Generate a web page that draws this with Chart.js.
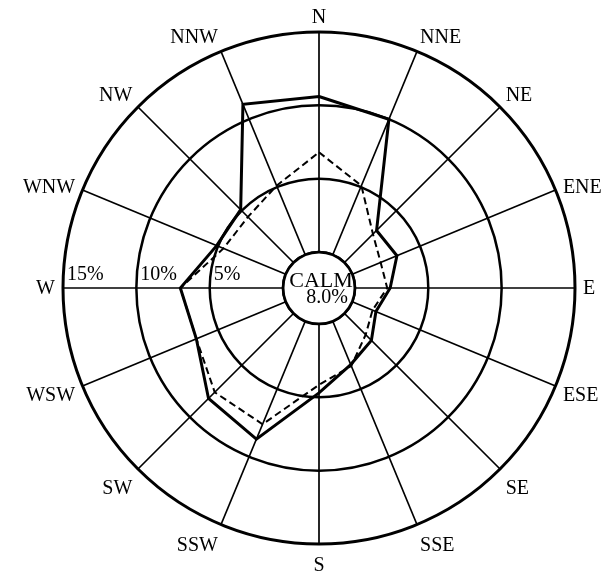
<!DOCTYPE html>
<html>
<head>
<meta charset="utf-8">
<script src="https://cdn.jsdelivr.net/npm/chart.js@4/dist/chart.umd.min.js"></script>
<style>
  html, body { margin: 0; padding: 0; background: #fff; }
  canvas { display: block; }
</style>
</head>
<body>
<canvas id="rose" width="616" height="580"></canvas>
<script>
// Wind directions, clockwise from north
const directions = ['N', 'NNE', 'NE', 'ENE', 'E', 'ESE', 'SE', 'SSE',
                    'S', 'SSW', 'SW', 'WSW', 'W', 'WNW', 'NW', 'NNW'];
// Frequency (%) per direction
const solidSeries  = [10.6, 10.0, 3.1, 3.3, 2.4, 1.75, 2.6, 3.2,
                      4.7, 8.7, 8.2, 6.6, 7.0, 5.1, 5.1, 11.1];
const dashedSeries = [6.8, 5.1, 2.75, 2.1, 2.2, 1.5, 2.05, 3.3,
                      4.15, 7.6, 7.6, 6.6, 7.0, 4.6, 4.4, 5.1];
// Rings and their labels
const ringTicks  = [0, 5, 10, 15];
const ringLabels = ['', '5%', '10%', '15%'];
const calmText   = ['CALM', '8.0%'];

const SERIF = '"Liberation Serif", "DejaVu Serif", serif';

// Calm circle in the middle, ring percentages along the west spoke, compass labels
const roseDecor = {
  id: 'roseDecor',
  beforeDatasetsDraw(chart) {
    const s = chart.scales.r;
    const ctx = chart.ctx;
    const cx = s.xCenter, cy = s.yCenter;
    const r0 = s.getDistanceFromCenterForValue(0);
    ctx.save();

    ctx.beginPath();
    ctx.arc(cx, cy, r0, 0, Math.PI * 2);
    ctx.fillStyle = '#fff';
    ctx.fill();
    ctx.lineWidth = 2.8;
    ctx.strokeStyle = '#000';
    ctx.stroke();

    ctx.fillStyle = '#000';
    ctx.textAlign = 'center';
    ctx.textBaseline = 'alphabetic';
    ctx.font = '22px ' + SERIF;
    ctx.fillText(calmText[0], cx + 2, cy - 1);
    ctx.font = '20px ' + SERIF;
    ctx.fillText(calmText[1], cx + 8, cy + 15);

    ctx.textAlign = 'left';
    ctx.font = '20px ' + SERIF;
    ringTicks.forEach((v, i) => {
      if (!ringLabels[i]) return;
      const d = s.getDistanceFromCenterForValue(v);
      ctx.fillText(ringLabels[i], cx - d + 4, cy - 8);
    });

    ctx.font = '20px ' + SERIF;
    ctx.textAlign = 'center';
    ctx.textBaseline = 'middle';
    directions.forEach((label, i) => {
      const a = i * Math.PI * 2 / directions.length;
      const sin = Math.sin(a), cos = Math.cos(a);
      const p = s.getPointPosition(i, s.drawingArea + 8);
      const hw = ctx.measureText(label).width / 2;
      const hh = 7;
      let dx = 0, dy = 0;
      if (Math.abs(sin) > 0.3) dx = Math.sign(sin) * hw;
      if (Math.abs(cos) > 0.5) dy = -Math.sign(cos) * hh;
      if (cos < -0.3) dy += 6;
      ctx.fillText(label, p.x + dx, p.y + dy + 1);
    });

    ctx.restore();
  }
};

new Chart(document.getElementById('rose'), {
  type: 'radar',
  data: {
    labels: directions,
    datasets: [
      {
        data: solidSeries,
        borderColor: '#000',
        borderWidth: 3,
        fill: false,
        pointRadius: 0,
        tension: 0,
        borderJoinStyle: 'miter'
      },
      {
        data: dashedSeries,
        borderColor: '#000',
        borderWidth: 2,
        borderDash: [7, 4],
        fill: false,
        pointRadius: 0,
        tension: 0
      }
    ]
  },
  options: {
    responsive: false,
    animation: false,
    layout: { padding: { left: 63, right: 41, top: 32, bottom: 36 } },
    plugins: { legend: { display: false }, tooltip: { enabled: false } },
    scales: {
      r: {
        min: -2.45,
        max: 15,
        startAngle: 0,
        ticks: { display: false, stepSize: 5 },
        afterBuildTicks: (scale) => { scale.ticks = ringTicks.map(v => ({ value: v })); },
        grid: {
          circular: true,
          color: '#000',
          lineWidth: (c) => (c.index === ringTicks.length - 1 ? 3 : 2.5)
        },
        angleLines: { color: '#000', lineWidth: 1.7 },
        pointLabels: { display: false }
      }
    }
  },
  plugins: [roseDecor]
});
</script>
</body>
</html>
